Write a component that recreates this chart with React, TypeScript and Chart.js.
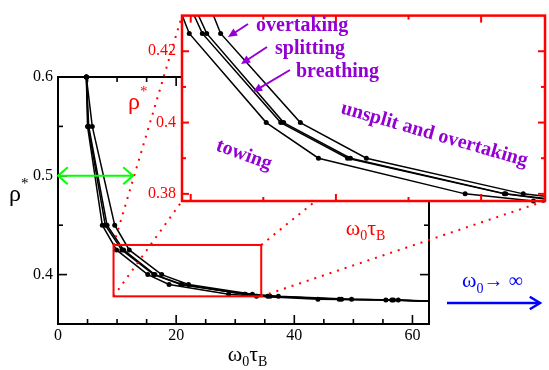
import React, { useEffect, useRef } from "react";
import { Chart, registerables } from "chart.js";
Chart.register(...registerables);

// ---- data ----
const rhoLevels = [0.6, 0.55, 0.45, 0.425, 0.4, 0.39, 0.38, 0.378, 0.375, 0.3743, 0.3725];
const towingX = [4.8, 5.0, 7.5, 9.9, 15.2, 18.8, 28.9, 33.6, 44.0, 55.5, 66];
const breathingX = [4.8, 5.1, 8.0, 10.8, 16.2, 20.8, 31.6, 35.5, 47.6, 56.5, 66];
const splittingX = [4.8, 5.2, 8.3, 11.1, 16.4, 21.0, 31.7, 35.9, 48.0, 56.8, 66];
const overtakingX = [4.8, 5.8, 9.6, 12.06, 17.55, 22.1, 32.9, 37.3, 49.7, 57.6, 66];

const mainXLabels = [0, 20, 40, 60];
const mainYLabels = [0.4, 0.5, 0.6];
const insetXLabels = [10, 20, 30];
const insetYLabels = [0.38, 0.4, 0.42];

const zoomX = [9.4, 34.4];
const zoomY = [0.378, 0.43];
const mainXRange = [0, 62.8];
const mainYRange = [0.35, 0.6];

const FONT = '"Liberation Serif", "Times New Roman", serif';
const PURPLE = "#9400d3";
const RED = "#ff0000";

const near = (v: number, list: number[]) => list.some((l) => Math.abs(l - v) < 1e-6);

type Seg = { t: string; size: number; dy?: number; weight?: string };

function drawRich(ctx: CanvasRenderingContext2D, segs: Seg[], x: number, y: number, align: "left" | "center", color: string) {
  ctx.save();
  ctx.fillStyle = color;
  ctx.textBaseline = "alphabetic";
  ctx.textAlign = "left";
  const ws = segs.map((s) => {
    ctx.font = `${s.weight || "normal"} ${s.size}px ${FONT}`;
    return ctx.measureText(s.t).width;
  });
  const total = ws.reduce((a, b) => a + b, 0);
  let cx = align === "center" ? x - total / 2 : x;
  segs.forEach((s, i) => {
    ctx.font = `${s.weight || "normal"} ${s.size}px ${FONT}`;
    ctx.fillText(s.t, cx, y + (s.dy || 0));
    cx += ws[i];
  });
  ctx.restore();
}

function drawRotated(ctx: CanvasRenderingContext2D, text: string, x: number, y: number, deg: number, size: number, color: string) {
  ctx.save();
  ctx.translate(x, y);
  ctx.rotate((deg * Math.PI) / 180);
  ctx.font = `bold ${size}px ${FONT}`;
  ctx.fillStyle = color;
  ctx.textBaseline = "alphabetic";
  ctx.textAlign = "left";
  ctx.fillText(text, 0, 0);
  ctx.restore();
}

function openHead(ctx: CanvasRenderingContext2D, tx: number, ty: number, ang: number, len: number, half: number) {
  ctx.beginPath();
  ctx.moveTo(tx + len * Math.cos(ang + Math.PI - half), ty + len * Math.sin(ang + Math.PI - half));
  ctx.lineTo(tx, ty);
  ctx.lineTo(tx + len * Math.cos(ang + Math.PI + half), ty + len * Math.sin(ang + Math.PI + half));
  ctx.stroke();
}

function filledArrow(ctx: CanvasRenderingContext2D, x0: number, y0: number, x1: number, y1: number, color: string) {
  const ang = Math.atan2(y1 - y0, x1 - x0);
  const len = 10, half = 0.42;
  ctx.save();
  ctx.strokeStyle = color;
  ctx.fillStyle = color;
  ctx.lineWidth = 2;
  ctx.beginPath();
  ctx.moveTo(x0, y0);
  ctx.lineTo(x1 - 6 * Math.cos(ang), y1 - 6 * Math.sin(ang));
  ctx.stroke();
  ctx.beginPath();
  ctx.moveTo(x1, y1);
  ctx.lineTo(x1 + len * Math.cos(ang + Math.PI - half), y1 + len * Math.sin(ang + Math.PI - half));
  ctx.lineTo(x1 + len * Math.cos(ang + Math.PI + half), y1 + len * Math.sin(ang + Math.PI + half));
  ctx.closePath();
  ctx.fill();
  ctx.restore();
}

function tickValues(min: number, max: number, step: number) {
  const out: number[] = [];
  const start = Math.ceil(min / step - 1e-9);
  const end = Math.floor(max / step + 1e-9);
  for (let k = start; k <= end; k++) out.push(Number((k * step).toFixed(6)));
  return out;
}

type TickSpec = { color: string; major: number; minor: number; xStep: number; yStep: number; xMajor: number[]; yMajor: number[]; lw: number };

// inward ticks on all four sides, positioned with the chart's own scales
function paintTicks(chart: any, spec: TickSpec) {
  const ctx: CanvasRenderingContext2D = chart.ctx;
  const a = chart.chartArea;
  const sx = chart.scales.x;
  const sy = chart.scales.y;
  const xs = tickValues(Math.min(sx.min, sx.max), Math.max(sx.min, sx.max), spec.xStep);
  const ys = tickValues(Math.min(sy.min, sy.max), Math.max(sy.min, sy.max), spec.yStep);
  ctx.save();
  ctx.fillStyle = spec.color;
  xs.forEach((v) => {
    const px = sx.getPixelForValue(v);
    if (px < a.left + 2 || px > a.right - 2) return;
    const L = near(v, spec.xMajor) ? spec.major : spec.minor;
    ctx.fillRect(px - spec.lw / 2, a.bottom - L, spec.lw, L);
    ctx.fillRect(px - spec.lw / 2, a.top, spec.lw, L);
  });
  ys.forEach((v) => {
    const py = sy.getPixelForValue(v);
    if (py < a.top + 2 || py > a.bottom - 2) return;
    const L = near(v, spec.yMajor) ? spec.major : spec.minor;
    ctx.fillRect(a.left, py - spec.lw / 2, L, spec.lw);
    ctx.fillRect(a.right - L, py - spec.lw / 2, L, spec.lw);
  });
  ctx.restore();
}

const MAIN_TICKS: TickSpec = { color: "#000", major: 9, minor: 5, xStep: 5, yStep: 0.05, xMajor: mainXLabels, yMajor: mainYLabels, lw: 1.6 };
const INSET_TICKS: TickSpec = { color: RED, major: 7, minor: 4, xStep: 5, yStep: 0.01, xMajor: insetXLabels, yMajor: insetYLabels, lw: 2 };

function buildDatasets(lineW: number, r: number, clip: any) {
  return [towingX, breathingX, splittingX, overtakingX].map((xs) => ({
    data: rhoLevels.map((y, i) => ({ x: xs[i], y })),
    showLine: true,
    borderColor: "#000",
    backgroundColor: "#000",
    borderWidth: lineW,
    pointRadius: r,
    pointBorderWidth: 0,
    pointBackgroundColor: "#000",
    tension: 0,
    clip,
  }));
}

export default function App() {
  const mainRef = useRef<HTMLCanvasElement>(null);
  const insetRef = useRef<HTMLCanvasElement>(null);

  useEffect(() => {
    const INSET_OFF = { x: 100, y: 0 };

    const insetPlugin = {
      id: "insetDeco",
      beforeDraw(chart: any) {
        const { ctx, chartArea: a } = chart;
        ctx.save();
        ctx.fillStyle = "#fff";
        ctx.fillRect(a.left, a.top, a.right - a.left, a.bottom - a.top);
        ctx.restore();
      },
      afterDraw(chart: any) {
        const { ctx, chartArea: a } = chart;
        paintTicks(chart, INSET_TICKS);
        ctx.save();
        ctx.strokeStyle = RED;
        ctx.lineWidth = 2.5;
        ctx.strokeRect(a.left, a.top, a.right - a.left, a.bottom - a.top);
        ctx.restore();
        const ox = INSET_OFF.x;
        const lab = (t: string, x: number, y: number) => drawRich(ctx, [{ t, size: 20, weight: "bold" }], x - ox, y, "left", PURPLE);
        lab("overtaking", 256, 31);
        lab("splitting", 275, 54);
        lab("breathing", 296, 77);
        filledArrow(ctx, 248 - ox, 24, 228 - ox, 37, PURPLE);
        filledArrow(ctx, 267 - ox, 47, 241 - ox, 64, PURPLE);
        filledArrow(ctx, 290 - ox, 70, 253 - ox, 92, PURPLE);
        drawRotated(ctx, "unsplit and overtaking", 340 - ox, 113, 16, 20, PURPLE);
        drawRotated(ctx, "towing", 215 - ox, 150, 20, 20, PURPLE);
        drawRich(ctx, [{ t: "ω", size: 22 }, { t: "0", size: 14, dy: 5 }, { t: "τ", size: 22 }, { t: "B", size: 14, dy: 5 }], (a.left + a.right) / 2 + 2, 235, "center", RED);
        drawRich(ctx, [{ t: "ρ", size: 24 }, { t: "*", size: 15, dy: -13 }], 128 - ox, 109, "left", RED);
      },
    };

    const inset = new Chart(insetRef.current!, {
      type: "scatter",
      data: { datasets: buildDatasets(1.5, 2.5, { left: 0, top: 0, right: 0, bottom: 4 }) as any },
      options: {
        animation: false,
        responsive: false,
        devicePixelRatio: 1,
        layout: { padding: { left: 0, top: 4, right: 1, bottom: 25 } },
        plugins: { legend: { display: false }, tooltip: { enabled: false } },
        scales: {
          x: {
            type: "linear",
            min: zoomX[0],
            max: zoomX[1],
            afterFit: (s: any) => { s.height = 24; },
            grid: { display: false, drawTicks: false },
            border: { display: false },
            ticks: {
              stepSize: 5,
              includeBounds: false,
              autoSkip: false,
              maxRotation: 0,
              padding: 2,
              color: RED,
              font: { family: FONT, size: 16 },
              callback: (v: any) => (near(Number(v), insetXLabels) ? String(v) : ""),
            },
          },
          y: {
            type: "linear",
            min: zoomY[0],
            max: zoomY[1],
            afterFit: (s: any) => { s.width = 82; },
            grid: { display: false, drawTicks: false },
            border: { display: false },
            ticks: {
              stepSize: 0.01,
              includeBounds: false,
              autoSkip: false,
              padding: 6,
              color: RED,
              font: { family: FONT, size: 16 },
              callback: (v: any) => (near(Number(v), insetYLabels) ? String(Number(Number(v).toFixed(2))) : ""),
            },
          },
        },
      } as any,
      plugins: [insetPlugin],
    });

    const mainPlugin = {
      id: "mainDeco",
      afterDraw(chart: any) {
        const { ctx, chartArea: a, scales } = chart;
        paintTicks(chart, MAIN_TICKS);
        ctx.save();
        ctx.strokeStyle = "#000";
        ctx.lineWidth = 2;
        ctx.strokeRect(a.left, a.top, a.right - a.left, a.bottom - a.top);
        ctx.restore();

        const bx0 = scales.x.getPixelForValue(zoomX[0]);
        const bx1 = scales.x.getPixelForValue(zoomX[1]);
        const by0 = scales.y.getPixelForValue(zoomY[1]);
        const by1 = scales.y.getPixelForValue(zoomY[0]);
        ctx.save();
        ctx.strokeStyle = RED;
        ctx.lineWidth = 2;
        ctx.strokeRect(bx0, by0, bx1 - bx0, by1 - by0);
        const ia = inset.chartArea;
        const il = ia.left + INSET_OFF.x, ir = ia.right + INSET_OFF.x;
        const it = ia.top + INSET_OFF.y, ib = ia.bottom + INSET_OFF.y;
        ctx.setLineDash([2, 6]);
        ctx.lineWidth = 2;
        const seg = (x0: number, y0: number, x1: number, y1: number) => {
          ctx.beginPath();
          ctx.moveTo(x0, y0);
          ctx.lineTo(x1, y1);
          ctx.stroke();
        };
        seg(bx0, by0, il, it);
        seg(bx0, by1, il, ib);
        seg(bx1, by0, ir, it);
        seg(bx1, by1, ir, ib);
        ctx.restore();

        const gy = scales.y.getPixelForValue(0.5);
        const gx0 = scales.x.getPixelForValue(0);
        const gx1 = scales.x.getPixelForValue(12.7);
        ctx.save();
        ctx.strokeStyle = "#00ff00";
        ctx.lineWidth = 2;
        ctx.beginPath();
        ctx.moveTo(gx0, gy);
        ctx.lineTo(gx1, gy);
        ctx.stroke();
        openHead(ctx, gx1, gy, 0, 13, 0.72);
        openHead(ctx, gx0, gy, Math.PI, 13, 0.72);
        ctx.restore();

        ctx.save();
        ctx.strokeStyle = "#0000ff";
        ctx.lineWidth = 2.5;
        ctx.beginPath();
        ctx.moveTo(447, 303);
        ctx.lineTo(540, 303);
        ctx.stroke();
        openHead(ctx, 540, 303, 0, 12, 0.55);
        ctx.restore();
        drawRich(ctx, [{ t: "ω", size: 22 }, { t: "0", size: 14, dy: 6 }, { t: "→", size: 20 }, { t: " ∞", size: 20 }], 462, 287, "left", "#0000ff");

        drawRich(ctx, [{ t: "ω", size: 22 }, { t: "0", size: 14, dy: 5 }, { t: "τ", size: 22 }, { t: "B", size: 14, dy: 5 }], (a.left + a.right) / 2 + 4, 361, "center", "#000");
        drawRich(ctx, [{ t: "ρ", size: 24 }, { t: "*", size: 15, dy: -13 }], 9, 201, "left", "#000");
      },
    };

    const main = new Chart(mainRef.current!, {
      type: "scatter",
      data: { datasets: buildDatasets(1.5, 2.5, { left: 4, top: 4, right: 0, bottom: 4 }) as any },
      options: {
        animation: false,
        responsive: false,
        devicePixelRatio: 1,
        layout: { padding: { left: 0, top: 77, right: 120, bottom: 24 } },
        plugins: { legend: { display: false }, tooltip: { enabled: false } },
        scales: {
          x: {
            type: "linear",
            min: mainXRange[0],
            max: mainXRange[1],
            afterFit: (s: any) => { s.height = 22; },
            grid: { display: false, drawTicks: false },
            border: { display: false },
            ticks: {
              stepSize: 5,
              includeBounds: false,
              autoSkip: false,
              maxRotation: 0,
              padding: 2,
              color: "#000",
              font: { family: FONT, size: 16 },
              callback: (v: any) => (near(Number(v), mainXLabels) ? String(v) : ""),
            },
          },
          y: {
            type: "linear",
            min: mainYRange[0],
            max: mainYRange[1],
            afterFit: (s: any) => { s.width = 58; },
            grid: { display: false, drawTicks: false },
            border: { display: false },
            ticks: {
              stepSize: 0.05,
              includeBounds: false,
              autoSkip: false,
              padding: 5,
              color: "#000",
              font: { family: FONT, size: 16 },
              callback: (v: any) => (near(Number(v), mainYLabels) ? Number(v).toFixed(1) : ""),
            },
          },
        },
      } as any,
      plugins: [mainPlugin],
    });

    return () => {
      main.destroy();
      inset.destroy();
    };
  }, []);

  return (
    <div style={{ position: "absolute", left: 0, top: 0, width: 549, height: 370, background: "#fff" }}>
      <canvas ref={mainRef} width={549} height={370} style={{ position: "absolute", left: 0, top: 0, width: 549, height: 370 }} />
      <canvas ref={insetRef} width={449} height={250} style={{ position: "absolute", left: 100, top: 0, width: 449, height: 250 }} />
    </div>
  );
}
